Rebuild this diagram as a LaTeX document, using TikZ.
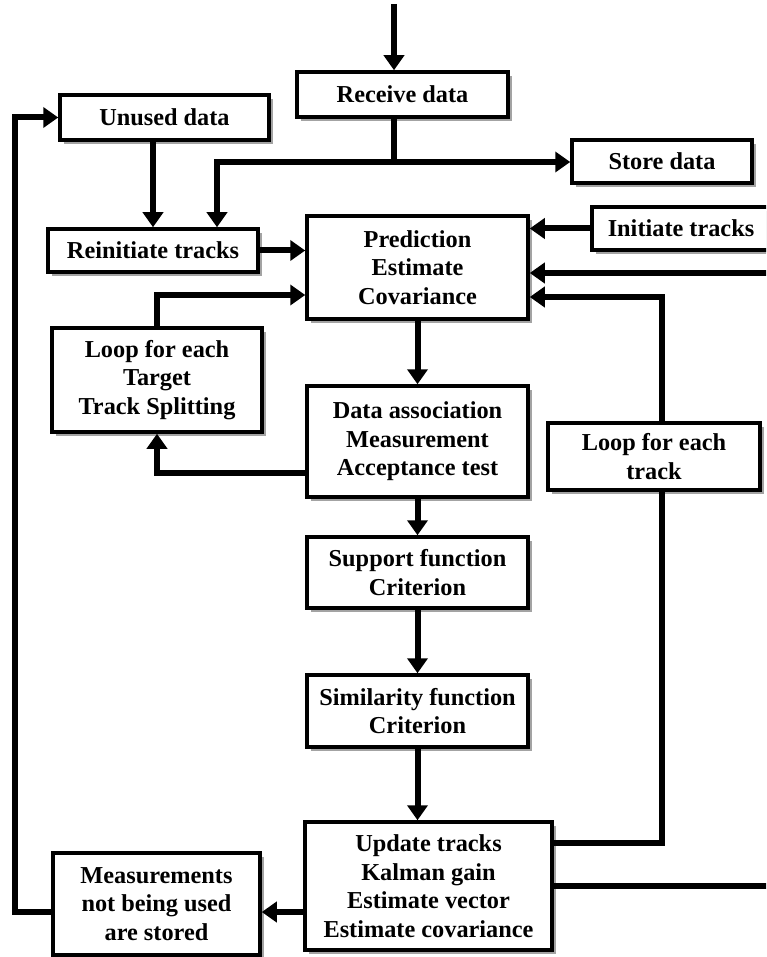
\documentclass[tikz,border=0pt]{standalone}
\usepackage{fontspec}
\setmainfont{Liberation Serif}
\usepackage{tikz}
\usetikzlibrary{arrows.meta,shadows}

\tikzset{
  box/.style={draw, line width=3.5pt, fill=white, align=center, inner sep=2pt,
    font=\bfseries\fontsize{24.3}{28.5}\selectfont,
    drop shadow={shadow xshift=4pt, shadow yshift=-4pt, fill=black!60, opacity=0.6}},
  flow/.style={line width=6pt, -{Triangle[length=15pt,width=20pt]}},
  link/.style={line width=6pt},
}

\begin{document}
\begin{tikzpicture}[x=1pt, y=-1pt]
                \useasboundingbox (0,0) rectangle (766,957);
                \clip (0,0) rectangle (766,957);

                % Boxes
                \node[box, minimum width=211pt, minimum height=45pt] (recv) at (402.5,94.5) {Receive data};
                \node[box, minimum width=209pt, minimum height=45pt] (unused) at (164.5,117.5) {Unused data};
                \node[box, minimum width=180pt, minimum height=43pt] (store) at (662,161.5) {Store data};
                \node[box, minimum width=210pt, minimum height=43pt] (reinit) at (153,250.5) {Reinitiate tracks};
                \node[box, minimum width=178pt, minimum height=43pt] (init) at (681,228.5) {Initiate tracks};
                \node[box, minimum width=221pt, minimum height=103pt] (pred) at (417.5,267.5) {Prediction\\Estimate\\Covariance};
                \node[box, minimum width=210pt, minimum height=104pt] (looptarget) at (157,380) {Loop for each\\Target\\Track Splitting};
                \node[box, minimum width=221pt, minimum height=111pt] (assoc) at (417.5,441.5) {Data association\\Measurement\\Acceptance test};
                \node[box, minimum width=212pt, minimum height=67pt] (looptrack) at (654,456.5) {Loop for each\\track};
                \node[box, minimum width=221pt, minimum height=71pt] (support) at (417.5,572.5) {Support function\\Criterion};
                \node[box, minimum width=221pt, minimum height=72pt] (similar) at (417.5,711) {Similarity function\\Criterion};
                \node[box, minimum width=247pt, minimum height=128pt] (update) at (428.5,886) {Update tracks\\Kalman gain\\Estimate vector\\Estimate covariance};
                \node[box, minimum width=207pt, minimum height=102pt] (meas) at (156.5,904) {Measurements\\not being used\\are stored};

                % Helper points
                \coordinate (top) at (394,4);
                \coordinate (split) at (394,162);
                \coordinate (leftrail) at (15,0);
                \coordinate (rightrail) at (790,0);
                \coordinate (predtrack) at ([yshift=-29.5pt]pred.east);
                \coordinate (predback) at ([yshift=-5.5pt]pred.east);

                % Incoming data
                \draw[flow] (top) -- (top |- recv.north);
                \draw[link] (recv.south -| top) -- (split);
                \draw[flow] (split) -- (store.west |- split);
                \draw[flow] (split) -| ([xshift=64pt]reinit.north);
                \draw[flow] (unused.south -| reinit.north) -- (reinit.north);

                % Into prediction
                \draw[flow] (reinit.east) -- (pred.west |- reinit.east);
                \draw[flow] (init.west) -- (pred.east |- init.west);
                \draw[flow] (looptarget.north) |- ([yshift=-27.5pt]pred.west);

                % Main chain
                \draw[flow] (pred.south) -- (assoc.north);
                \draw[flow] ([yshift=-31.5pt]assoc.west) -| (looptarget.south);
                \draw[flow] (assoc.south) -- (support.north);
                \draw[flow] (support.south) -- (similar.north);
                \draw[flow] (similar.south) -- (similar.south |- update.north);

                % Loops back
                \draw[link] ([yshift=43pt]update.east) -| ([xshift=8pt]looptrack.south);
                \draw[flow] ([xshift=8pt]looptrack.north) |- (predtrack);
                \draw[flow] (update.east) -| (predback -| rightrail) -- (predback);
                \draw[flow] ([yshift=-26pt]update.west) -- ([yshift=-8pt]meas.east);
                \draw[flow] ([yshift=-8pt]meas.west) -| (leftrail |- unused.west) -- (unused.west);
            \end{tikzpicture}
\end{document}
